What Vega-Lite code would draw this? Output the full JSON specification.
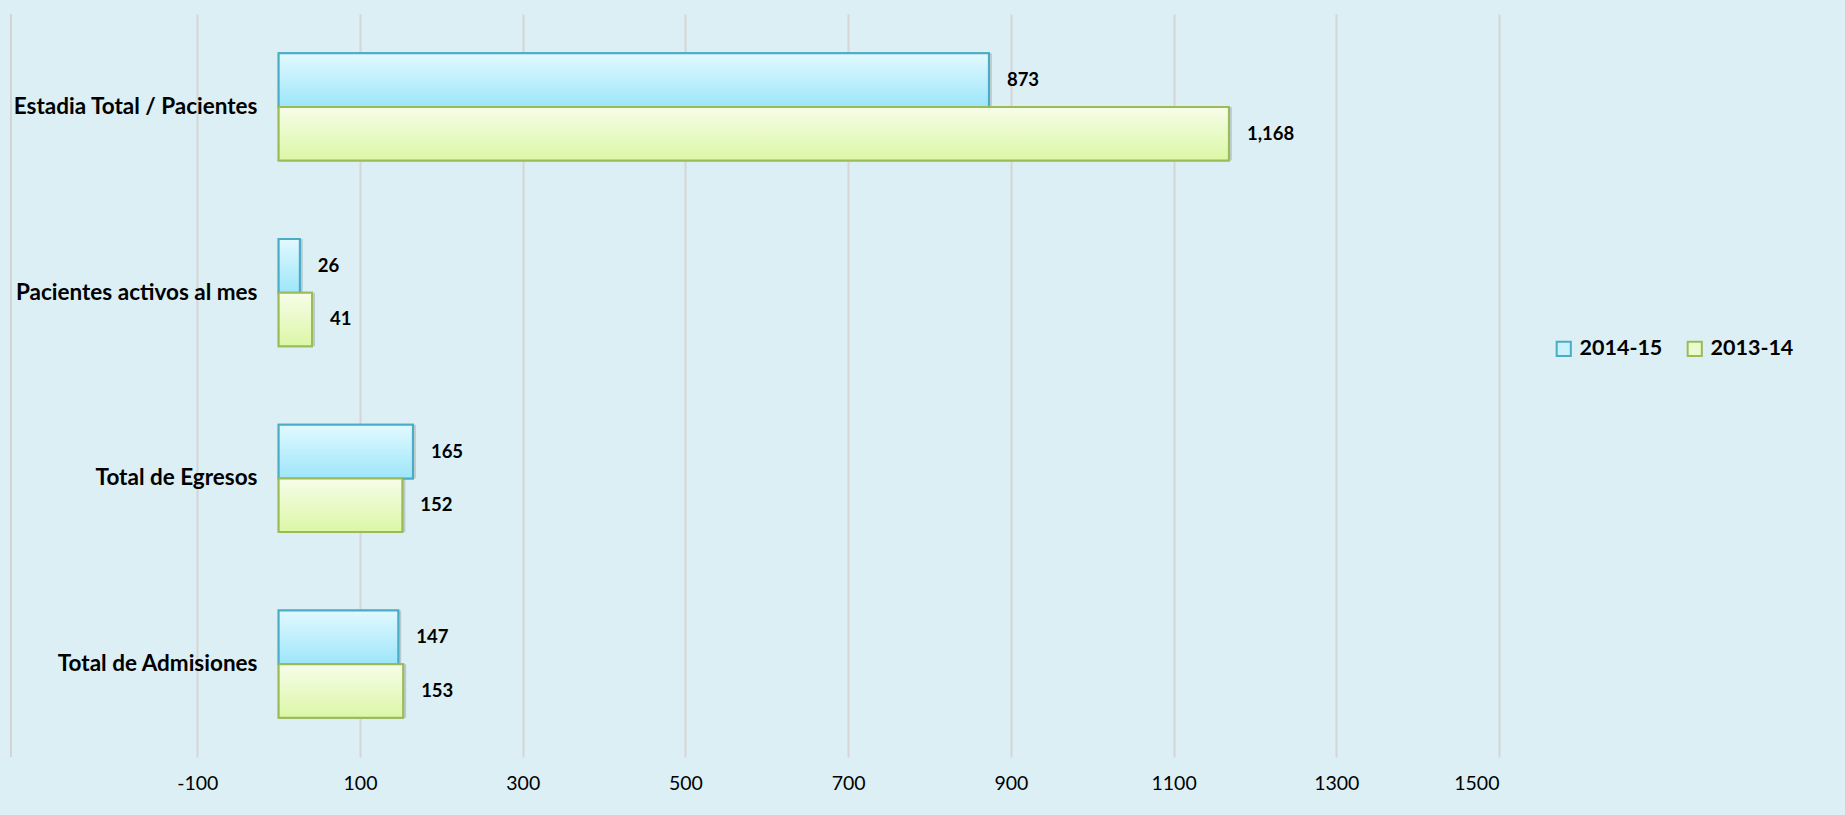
{
  "$schema": "https://vega.github.io/schema/vega-lite/v6.json",
  "width": 1488,
  "height": 743,
  "autosize": {"type": "none"},
  "padding": {"left": 11, "top": 14, "right": 346, "bottom": 58},
  "background": "#dbeff5",
  "config": {"view": {"stroke": null}, "font": "Lato"},
  "data": {
    "values": [
      {"cat": "Estadia Total / Pacientes", "series": "2014-15", "value": 873},
      {"cat": "Estadia Total / Pacientes", "series": "2013-14", "value": 1168},
      {"cat": "Pacientes activos al mes", "series": "2014-15", "value": 26},
      {"cat": "Pacientes activos al mes", "series": "2013-14", "value": 41},
      {"cat": "Total de Egresos", "series": "2014-15", "value": 165},
      {"cat": "Total de Egresos", "series": "2013-14", "value": 152},
      {"cat": "Total de Admisiones", "series": "2014-15", "value": 147},
      {"cat": "Total de Admisiones", "series": "2013-14", "value": 153}
    ]
  },
  "layer": [
    {
      "mark": {"type": "rule", "color": "#d4d4d4", "strokeWidth": 2},
      "encoding": {"x": {"datum": -329, "type": "quantitative"}}
    },
    {
      "mark": {"type": "bar", "fill": "#000000", "opacity": 0.15, "xOffset": 3, "yOffset": 4},
      "encoding": {
        "y": {"field": "cat", "type": "nominal", "sort": ["Estadia Total / Pacientes", "Pacientes activos al mes", "Total de Egresos", "Total de Admisiones"], "scale": {"paddingInner": 0.423, "paddingOuter": 0.2115},
          "axis": {"title": null, "orient": "left", "offset": -246, "ticks": false, "domain": false, "labelPadding": 0, "labelFontSize": 22.5, "labelFontWeight": "bold", "labelColor": "#000000", "labelFont": "Lato", "labelLimit": 400}},
        "yOffset": {"field": "series", "type": "nominal", "sort": ["2014-15", "2013-14"], "scale": {"paddingInner": 0, "paddingOuter": 0}},
        "x": {"field": "value", "type": "quantitative", "scale": {"domain": [-329, 1500], "nice": false, "zero": false},
          "axis": {"title": null, "values": [-100, 100, 300, 500, 700, 900, 1100, 1300, 1500], "labelExpr": "toString(datum.value)", "ticks": false, "domain": false, "grid": true, "gridColor": "#d6d6d6", "gridWidth": 2, "labelPadding": 17, "labelFontSize": 19.5, "labelColor": "#000000", "labelFont": "Lato"}}
      }
    },
    {
      "mark": {"type": "bar", "strokeWidth": 2},
      "encoding": {
        "y": {"field": "cat", "type": "nominal", "sort": ["Estadia Total / Pacientes", "Pacientes activos al mes", "Total de Egresos", "Total de Admisiones"]},
        "yOffset": {"field": "series", "type": "nominal", "sort": ["2014-15", "2013-14"]},
        "x": {"field": "value", "type": "quantitative"},
        "fill": {"field": "series", "type": "nominal", "sort": ["2014-15", "2013-14"], "scale": {"domain": ["2014-15", "2013-14"], "range": ["#c9f2fd", "#ecfbcf"]},
          "legend": {"title": null, "orient": "none", "legendX": 1542, "legendY": 324, "direction": "horizontal", "columns": 2, "symbolType": "square", "symbolSize": 200, "symbolStrokeWidth": 2, "labelFontSize": 21.5, "labelFontWeight": "bold", "labelColor": "#000000", "labelFont": "Lato", "labelOffset": 5, "columnPadding": 20}},
        "stroke": {"field": "series", "type": "nominal", "sort": ["2014-15", "2013-14"], "scale": {"domain": ["2014-15", "2013-14"], "range": ["#4bacc6", "#9bbb59"]}}
      }
    },
    {
      "mark": {"type": "bar", "strokeWidth": 2},
      "encoding": {
        "y": {"field": "cat", "type": "nominal", "sort": ["Estadia Total / Pacientes", "Pacientes activos al mes", "Total de Egresos", "Total de Admisiones"]},
        "yOffset": {"field": "series", "type": "nominal", "sort": ["2014-15", "2013-14"]},
        "x": {"field": "value", "type": "quantitative"},
        "fill": {
          "condition": {"test": "datum.series === '2014-15'", "value": {"gradient": "linear", "x1": 0, "y1": 0, "x2": 0, "y2": 1, "stops": [{"offset": 0, "color": "#e2f9ff"}, {"offset": 1, "color": "#9de6fa"}]}},
          "value": {"gradient": "linear", "x1": 0, "y1": 0, "x2": 0, "y2": 1, "stops": [{"offset": 0, "color": "#f7fde9"}, {"offset": 1, "color": "#dbf7a6"}]}
        },
        "stroke": {"condition": {"test": "datum.series === '2014-15'", "value": "#4bacc6"}, "value": "#9bbb59"}
      }
    },
    {
      "mark": {"type": "text", "align": "left", "baseline": "middle", "dx": 18, "fontSize": 18.5, "fontWeight": "bold", "color": "#000000", "font": "Lato"},
      "encoding": {
        "y": {"field": "cat", "type": "nominal", "sort": ["Estadia Total / Pacientes", "Pacientes activos al mes", "Total de Egresos", "Total de Admisiones"]},
        "yOffset": {"field": "series", "type": "nominal", "sort": ["2014-15", "2013-14"]},
        "x": {"field": "value", "type": "quantitative"},
        "text": {"field": "value", "type": "quantitative", "format": ","}
      }
    }
  ]
}
